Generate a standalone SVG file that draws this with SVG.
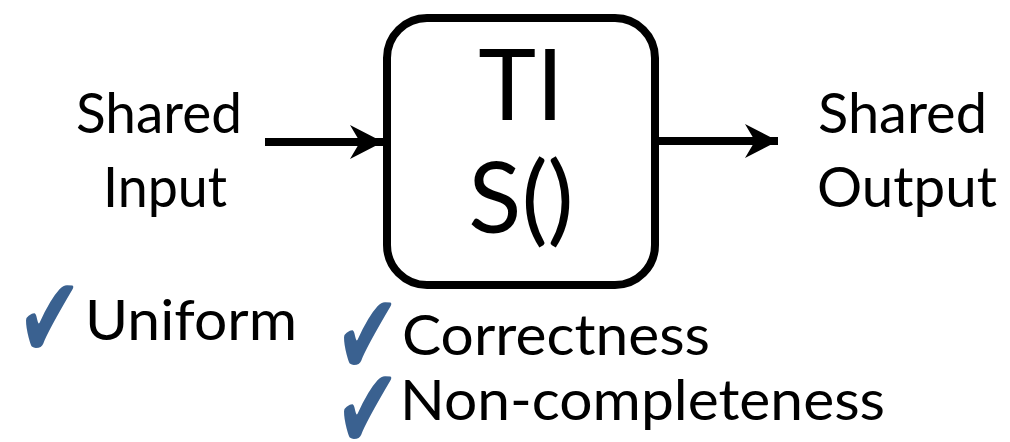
<svg xmlns="http://www.w3.org/2000/svg" width="1010" height="442" viewBox="0 0 1010 442">
  <defs>
    <style>
      .lbl { font-family: Lato, "Open Sans", "Liberation Sans", sans-serif; font-size: 57px; fill: #000; }
      .big { font-family: Lato, "Open Sans", "Liberation Sans", sans-serif; font-size: 98px; fill: #000; text-anchor: middle; }
      .chk { font-family: "DejaVu Sans", sans-serif; font-size: 78px; fill: #3a6190; }
      .wire { stroke: #000; stroke-width: 8; fill: none; }
    </style>
    <marker id="head" markerUnits="userSpaceOnUse" markerWidth="40" markerHeight="40" refX="33" refY="17" orient="auto">
      <path d="M0,0 L33,17 L0,34 L10,17 Z" fill="#000"/>
    </marker>
  </defs>

  <!-- central block -->
  <g id="ti-box">
    <rect x="387" y="18" width="268" height="267" rx="40" ry="40" fill="#fff" stroke="#000" stroke-width="8"/>
    <text class="big" x="521" y="120">TI</text>
    <text class="big" x="521" y="233">S()</text>
  </g>

  <!-- input label -->
  <g id="shared-input">
    <text class="lbl" x="76" y="133" textLength="166" lengthAdjust="spacingAndGlyphs">Shared</text>
    <text class="lbl" x="103" y="207" textLength="124" lengthAdjust="spacingAndGlyphs">Input</text>
  </g>

  <!-- output label -->
  <g id="shared-output">
    <text class="lbl" x="818" y="133" textLength="169" lengthAdjust="spacingAndGlyphs">Shared</text>
    <text class="lbl" x="817" y="207" textLength="180" lengthAdjust="spacingAndGlyphs">Output</text>
  </g>

  <!-- property checklist -->
  <g id="prop-uniform">
    <text class="chk" transform="translate(17,358) scale(1,1.48)">✔</text>
    <text class="lbl" x="85" y="340" textLength="212" lengthAdjust="spacingAndGlyphs">Uniform</text>
  </g>
  <g id="prop-correctness">
    <text class="chk" transform="translate(335,375) scale(1,1.48)">✔</text>
    <text class="lbl" x="402" y="355" textLength="308" lengthAdjust="spacingAndGlyphs">Correctness</text>
  </g>
  <g id="prop-noncompleteness">
    <text class="chk" transform="translate(335,449) scale(1,1.48)">✔</text>
    <text class="lbl" x="400" y="420" textLength="485" lengthAdjust="spacingAndGlyphs">Non-completeness</text>
  </g>

  <!-- connectors -->
  <g id="connectors">
    <line class="wire" x1="265" y1="142" x2="383" y2="142" marker-end="url(#head)"/>
    <line class="wire" x1="659" y1="141" x2="778" y2="141" marker-end="url(#head)"/>
  </g>
</svg>
